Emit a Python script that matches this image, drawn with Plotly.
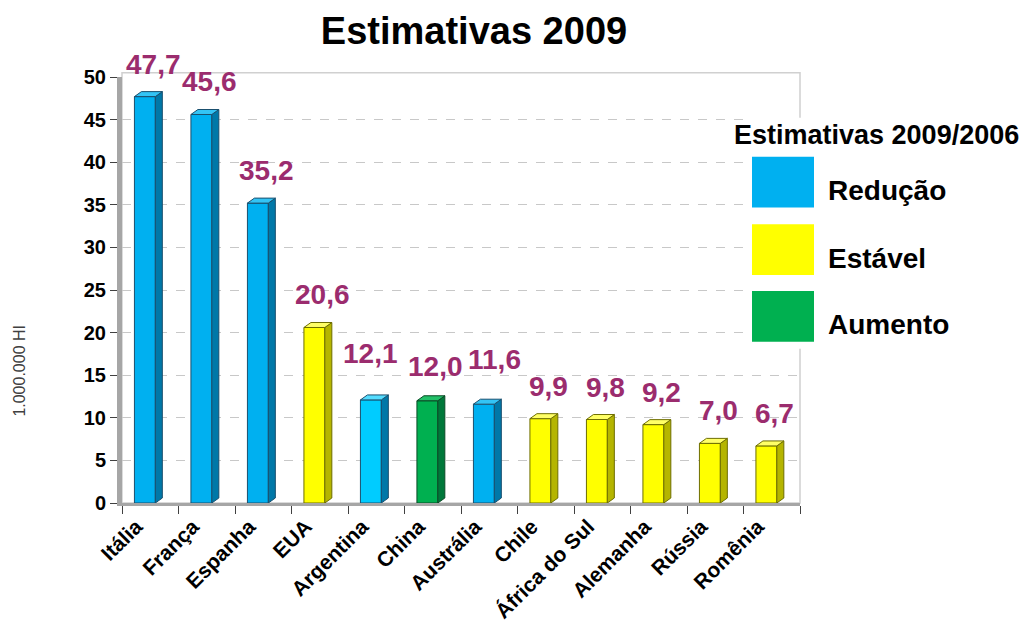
import plotly.graph_objects as go

countries = ["Itália", "França", "Espanha", "EUA", "Argentina", "China", "Austrália",
             "Chile", "África do Sul", "Alemanha", "Rússia", "Romênia"]
values = [47.7, 45.6, 35.2, 20.6, 12.1, 12.0, 11.6, 9.9, 9.8, 9.2, 7.0, 6.7]
trend = ["Redução", "Redução", "Redução", "Estável", "Redução", "Aumento", "Redução",
         "Estável", "Estável", "Estável", "Estável", "Estável"]
legend_items = ["Redução", "Estável", "Aumento"]
y_ticks = [0, 5, 10, 15, 20, 25, 30, 35, 40, 45, 50]

front = {"Redução": "#00B0F0", "Estável": "#FFFF00", "Aumento": "#00B050"}
side = {"Redução": "#0078A8", "Estável": "#B5B500", "Aumento": "#00783A"}
top = {"Redução": "#33C4F5", "Estável": "#FFFF66", "Aumento": "#22C068"}
edge = {"Redução": "#1A4F6E", "Estável": "#6E6E00", "Aumento": "#0B4A26"}

face_colors = [front[t] for t in trend]
face_colors[4] = "#00CCFF"  # Argentina lighter cyan
top_colors = [top[t] for t in trend]
top_colors[4] = "#55DDFF"

# extra label lift (px) / nudge where the original moves crowded labels
label_lift = {4: 14, 5: 2, 6: 12}
label_nudge = {4: -0.15, 6: 0.05}

W, H = 1028, 635
ml, mr, mt, mb = 122, 228, 77, 130
pw = W - ml - mr
ph = H - mt - mb
n = len(countries)
cat_px = pw / n
y_px = ph / 50.0

bw = 0.37
boff = -0.28
dx = 7 / cat_px
dy = 5 / y_px

fig = go.Figure()
fig.add_trace(go.Bar(
    x=list(range(n)), y=values, width=bw, offset=boff,
    marker=dict(color=face_colors, line=dict(color=[edge[t] for t in trend], width=1)),
    showlegend=False, hoverinfo="skip"))

shapes = []
for i, (v, t) in enumerate(zip(values, trend)):
    xl = i + boff
    xr = xl + bw
    shapes.append(dict(type="path", xref="x", yref="y",
                       path=f"M {xr} 0 L {xr+dx} {dy} L {xr+dx} {v+dy} L {xr} {v} Z",
                       fillcolor=side[t], line=dict(color=edge[t], width=1), layer="above"))
    shapes.append(dict(type="path", xref="x", yref="y",
                       path=f"M {xl} {v} L {xl+dx} {v+dy} L {xr+dx} {v+dy} L {xr} {v} Z",
                       fillcolor=top_colors[i], line=dict(color=edge[t], width=1), layer="above"))

# plot frame
shapes.append(dict(type="rect", xref="paper", yref="paper", x0=0, x1=1, y0=0, y1=1.01,
                   line=dict(color="#D0D0D0", width=1.5), layer="below"))

# legend background & swatches
shapes.append(dict(type="rect", xref="paper", yref="paper",
                   x0=(748 - ml) / pw, x1=(1028 - ml) / pw,
                   y0=(H - mb - 350) / ph, y1=(H - mb - 118) / ph,
                   fillcolor="white", line=dict(width=0), layer="above"))
annotations = []
sw_tops = [157, 225, 292]
for name, yt in zip(legend_items, sw_tops):
    shapes.append(dict(type="rect", xref="paper", yref="paper",
                       x0=(752 - ml) / pw, x1=(814 - ml) / pw,
                       y0=(H - mb - (yt + 51)) / ph, y1=(H - mb - yt) / ph,
                       fillcolor=front[name], line=dict(width=0), layer="above"))
    annotations.append(dict(xref="paper", yref="paper", x=(826 - ml) / pw,
                            y=(H - mb - (yt + 34)) / ph, text=f"<b>{name}</b>",
                            showarrow=False, xanchor="left", yanchor="middle",
                            font=dict(size=28, color="#000000", family="Arial")))
annotations.append(dict(xref="paper", yref="paper", x=(876 - ml) / pw, y=(H - mb - 135) / ph,
                        text="<b>Estimativas 2009/2006</b>", showarrow=False,
                        xanchor="center", yanchor="middle",
                        font=dict(size=27, color="#000000", family="Arial")))

# y axis title
annotations.append(dict(xref="paper", yref="paper", x=(20 - ml) / pw, y=(H - mb - 372) / ph,
                        text="1.000.000 HI", showarrow=False, textangle=-90,
                        xanchor="center", yanchor="middle",
                        font=dict(size=16, color="#404040", family="Arial")))

for i, v in enumerate(values):
    annotations.append(dict(x=i + 0.05 + label_nudge.get(i, 0), y=v, xref="x", yref="y",
                            text="<b>" + f"{v:.1f}".replace(".", ",") + "</b>", showarrow=False,
                            yanchor="bottom", yshift=15 + label_lift.get(i, 0),
                            font=dict(size=28, color="#9B2C6E", family="Arial")))

fig.update_layout(
    width=W, height=H,
    margin=dict(l=ml, r=mr, t=mt, b=mb),
    paper_bgcolor="white", plot_bgcolor="white",
    title=dict(text="<b>Estimativas 2009</b>", x=474 / W, xanchor="center",
               y=1 - 31 / H, yanchor="middle",
               font=dict(size=38, color="#000000", family="Arial")),
    shapes=shapes, annotations=annotations,
    xaxis=dict(range=[-0.5, n - 0.5], tickmode="array", tickvals=list(range(n)),
               ticktext=[f"<b>{c}</b>" for c in countries], tickangle=-45,
               tickfont=dict(size=21, color="#000000", family="Arial"),
               ticklabelshift=-14,
               showgrid=False, showline=True, linecolor="#A6A6A6", linewidth=3,
               ticks="", zeroline=False,
               minor=dict(tickmode="linear", tick0=0.5, dtick=1, ticks="outside",
                          ticklen=8, tickcolor="#404040", showgrid=False)),
    yaxis=dict(range=[0, 50], tickvals=y_ticks,
               ticktext=[f"<b>{t}</b>" for t in y_ticks],
               tickfont=dict(size=20, color="#000000", family="Arial"),
               showgrid=True, gridcolor="#C8C8C8", griddash="dash", gridwidth=1,
               showline=True, linecolor="#A6A6A6", linewidth=5,
               ticks="outside", ticklen=7, tickcolor="#404040",
               zeroline=False),
)

fig.write_html("out.html", config={"displayModeBar": False},
               post_script="document.body.style.margin='0';")
